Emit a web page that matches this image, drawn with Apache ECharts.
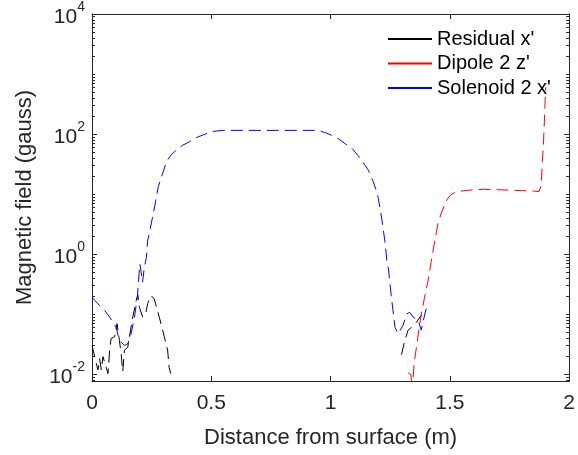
<!DOCTYPE html>
<html>
<head>
<meta charset="utf-8">
<title>Magnetic field vs distance</title>
<script src="https://cdn.jsdelivr.net/npm/echarts@6/dist/echarts.min.js"></script>
<style>
  html, body { margin: 0; padding: 0; background: #fff; }
  #main { width: 578px; height: 455px; }
</style>
</head>
<body>
<div id="main"></div>
<script>
// x in metres, y in gauss
var residualLeft = [
  [0, 0.030], [0.018, 0.015], [0.025, 0.0117], [0.032, 0.018], [0.039, 0.0117],
  [0.046, 0.0195], [0.067, 0.0102], [0.074, 0.025], [0.08, 0.039], [0.095, 0.042],
  [0.105, 0.069], [0.115, 0.036], [0.122, 0.022], [0.129, 0.011], [0.136, 0.025],
  [0.15, 0.028], [0.157, 0.042], [0.171, 0.089], [0.185, 0.166], [0.192, 0.21],
  [0.199, 0.129], [0.2125, 0.089], [0.226, 0.107], [0.233, 0.148], [0.247, 0.204],
  [0.261, 0.178], [0.282, 0.089], [0.303, 0.042], [0.317, 0.025], [0.323, 0.013],
  [0.33, 0.0102]
];
var residualRight = [
  [1.297, 0.021], [1.311, 0.036], [1.325, 0.054], [1.339, 0.060], [1.36, 0.073],
  [1.374, 0.089], [1.383, 0.095]
];
var dipole = [
  [1.325, 0.0105], [1.337, 0.0098], [1.342, 0.005], [1.35, 0.015], [1.36, 0.028],
  [1.37, 0.054], [1.38, 0.1], [1.394, 0.19], [1.408, 0.35], [1.422, 0.76],
  [1.436, 1.6], [1.45, 3.2], [1.464, 4.8], [1.478, 6.6], [1.49, 8.3], [1.505, 9.8],
  [1.525, 10.8], [1.547, 11.2], [1.6, 11.8], [1.645, 12.0], [1.728, 11.7], [1.8, 11.4],
  [1.853, 11.2], [1.874, 11.0], [1.883, 14], [1.8875, 35], [1.892, 65], [1.896, 160],
  [1.899, 340], [1.902, 600]
];
var solenoid = [
  [0, 0.19], [0.032, 0.138], [0.053, 0.115], [0.074, 0.089], [0.101, 0.060],
  [0.115, 0.036], [0.136, 0.030], [0.15, 0.032], [0.164, 0.047], [0.178, 0.089],
  [0.19, 0.19], [0.197, 0.46], [0.201, 0.68], [0.212, 0.34], [0.219, 0.59],
  [0.228, 0.87], [0.233, 1.64], [0.242, 2.4], [0.264, 6.6], [0.278, 13.3],
  [0.29, 19], [0.299, 23.5], [0.311, 34], [0.33, 44], [0.353, 54], [0.38, 65],
  [0.408, 74], [0.44, 88], [0.478, 101], [0.5, 110], [0.55, 115], [0.93, 115],
  [0.955, 112], [0.98, 105], [1.005, 95], [1.03, 85], [1.061, 69], [1.089, 58],
  [1.103, 50], [1.125, 39], [1.145, 30], [1.158, 25], [1.179, 16], [1.193, 11],
  [1.2, 8.5], [1.214, 4.0], [1.228, 1.6], [1.2375, 0.68], [1.242, 0.59], [1.255, 0.19],
  [1.27, 0.060], [1.283, 0.047], [1.304, 0.065], [1.318, 0.10], [1.332, 0.107],
  [1.346, 0.089], [1.367, 0.079], [1.38, 0.054], [1.395, 0.10], [1.401, 0.123]
];

var seriesNames = ["Residual x'", "Dipole 2 z'", "Solenoid 2 x'"];
var seriesColors = ['#000000', '#ff0000', '#0000ff'];
var yMajorTicks = [0.01, 1, 100, 10000];
var yMin = 0.00766, yMax = 10000;

var yMinorTicks = [];
for (var n = -3; n <= 3; n++) {
  for (var k = 1; k <= 9; k++) {
    var v = k * Math.pow(10, n);
    if (k === 1 && n % 2 === 0) continue;
    if (v >= yMin && v <= yMax) yMinorTicks.push(+v.toPrecision(3));
  }
}

var axisColor = '#262626';
var font = '"Liberation Sans", Arial, sans-serif';

function yAxisDef(pos, major, showLabel) {
  return {
    type: 'log',
    position: pos,
    min: yMin,
    max: yMax,
    axisLine: { show: true, lineStyle: { color: axisColor, width: 1 } },
    axisTick: {
      show: true, inside: true, length: major ? 5 : 3,
      customValues: major ? yMajorTicks : yMinorTicks,
      lineStyle: { color: axisColor, width: 1 }
    },
    axisLabel: {
      show: showLabel,
      customValues: yMajorTicks,
      margin: 7,
      fontFamily: font,
      color: axisColor,
      formatter: function (val) {
        return '{b|10}{s|' + Math.round(Math.log10(val)) + '}';
      },
      rich: {
        b: { fontSize: 21, fontFamily: font, color: axisColor, padding: [7, 0, 0, 0] },
        s: { fontSize: 14, fontFamily: font, color: axisColor, padding: [0, 0, 14, 0] }
      }
    },
    splitLine: { show: false },
    minorTick: { show: false }
  };
}

var myChart = echarts.init(document.getElementById('main'), null, { renderer: 'canvas' });

var yName = yAxisDef('left', true, true);
yName.name = 'Magnetic field (gauss)';
yName.nameLocation = 'middle';
yName.nameGap = 56;
yName.nameTextStyle = { fontSize: 22, fontFamily: font, color: axisColor };

// dashed curves (not named in the legend)
function curve(id, data, color) {
  return {
    name: id,
    type: 'line',
    data: data,
    symbol: 'none',
    clip: true,
    itemStyle: { color: color },
    lineStyle: { color: color, width: 1, type: [12, 6] }
  };
}
// empty series only used for the legend keys
function key(name, color) {
  return {
    name: name,
    type: 'line',
    data: [],
    symbol: 'none',
    symbolSize: 0,
    itemStyle: { color: color },
    lineStyle: { color: color, width: 1, type: 'solid' }
  };
}

myChart.setOption({
  animation: false,
  grid: { left: 92, right: 6, top: 11, bottom: 74, containLabel: false },
  legend: {
    data: seriesNames,
    orient: 'vertical',
    left: 387,
    top: 29,
    padding: 0,
    itemGap: 4.5,
    itemWidth: 44,
    itemHeight: 14,
    itemStyle: { opacity: 0 },
    selectedMode: false,
    textStyle: { fontSize: 20, fontFamily: font, color: '#000' }
  },
  xAxis: [{
    type: 'value',
    position: 'bottom',
    min: 0, max: 2, interval: 0.5,
    name: 'Distance from surface (m)',
    nameLocation: 'middle',
    nameGap: 46,
    nameTextStyle: { fontSize: 22, fontFamily: font, color: axisColor },
    axisLine: { show: true, onZero: false, lineStyle: { color: axisColor, width: 1 } },
    axisTick: { show: true, inside: true, length: 5, lineStyle: { color: axisColor } },
    axisLabel: { fontSize: 21, fontFamily: font, color: axisColor, margin: 12 },
    splitLine: { show: false }
  }, {
    type: 'value',
    position: 'top',
    min: 0, max: 2, interval: 0.5,
    axisLine: { show: true, onZero: false, lineStyle: { color: axisColor, width: 1 } },
    axisTick: { show: true, inside: true, length: 5, lineStyle: { color: axisColor } },
    axisLabel: { show: false },
    splitLine: { show: false }
  }],
  yAxis: [
    yName,
    yAxisDef('left', false, false),
    yAxisDef('right', true, false),
    yAxisDef('right', false, false)
  ],
  series: [
    curve('residualA', residualLeft, seriesColors[0]),
    curve('residualB', residualRight, seriesColors[0]),
    curve('dipole', dipole, seriesColors[1]),
    curve('solenoid', solenoid, seriesColors[2]),
    key(seriesNames[0], seriesColors[0]),
    key(seriesNames[1], seriesColors[1]),
    key(seriesNames[2], seriesColors[2])
  ]
});
</script>
</body>
</html>
